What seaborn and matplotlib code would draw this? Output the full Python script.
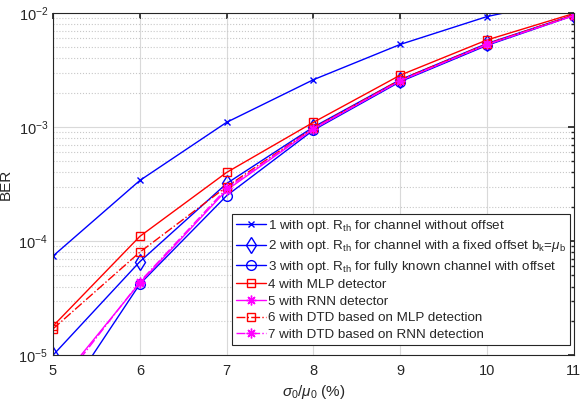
import numpy as np
import pandas as pd
import matplotlib
matplotlib.use("Agg")
import matplotlib.pyplot as plt
import seaborn as sns

# values
sigma_ratio = [5, 6, 7, 8, 9, 10, 11]
ber_1 = [7.4e-5, 3.4e-4, 1.1e-3, 2.6e-3, 5.3e-3, 9.3e-3, 1.35e-2]
ber_2 = [1.0e-5, 6.6e-5, 3.2e-4, 1.0e-3, 2.6e-3, 5.4e-3, 9.6e-3]
ber_3 = [3.0e-6, 4.2e-5, 2.5e-4, 9.4e-4, 2.5e-3, 5.2e-3, 9.5e-3]
ber_4 = [1.8e-5, 1.1e-4, 4.0e-4, 1.1e-3, 2.85e-3, 5.8e-3, 9.9e-3]
ber_5 = [5.0e-6, 4.3e-5, 2.8e-4, 9.6e-4, 2.55e-3, 5.3e-3, 9.5e-3]
ber_6 = [1.7e-5, 8.0e-5, 3.0e-4, 9.8e-4, 2.6e-3, 5.35e-3, 9.6e-3]
ber_7 = [4.6e-6, 4.4e-5, 2.9e-4, 9.7e-4, 2.55e-3, 5.3e-3, 9.5e-3]

labels = [
    r"1 with opt. R$_{\rm th}$ for channel without offset",
    r"2 with opt. R$_{\rm th}$ for channel with a fixed offset b$_{\rm k}$=$\mu_{\rm b}$",
    r"3 with opt. R$_{\rm th}$ for fully known channel with offset",
    "4 with MLP detector",
    "5 with RNN detector",
    "6 with DTD based on MLP detection",
    "7 with DTD based on RNN detection",
]

# MATLAB-like asterisk: 8 spokes
asterisk = (8, 2, 0)
styles = [
    dict(color="#0000ff", marker="x", linestyle="-", ms=5),
    dict(color="#0000ff", marker="d", linestyle="-", ms=8),
    dict(color="#0000ff", marker="o", linestyle="-", ms=7),
    dict(color="#ff0000", marker="s", linestyle="-", ms=6),
    dict(color="#ff00ff", marker=asterisk, linestyle="-", ms=7),
    dict(color="#ff0000", marker="s", linestyle="-.", ms=6),
    dict(color="#ff00ff", marker=asterisk, linestyle="-.", ms=7),
]

sns.set_theme(style="white")
plt.rcParams["font.family"] = ["Liberation Sans", "DejaVu Sans"]
plt.rcParams["mathtext.fontset"] = "custom"
plt.rcParams["mathtext.rm"] = "Liberation Sans"
plt.rcParams["mathtext.it"] = "Liberation Sans:italic"

fig = plt.figure(figsize=(5.8, 4.05), dpi=100)
ax = fig.add_axes([0.0914, 0.123, 0.898, 0.845])

series = [ber_1, ber_2, ber_3, ber_4, ber_5, ber_6, ber_7]
for vals, lab, st in zip(series, labels, styles):
    df = pd.DataFrame({"x": sigma_ratio, "ber": vals})
    face = "none" if st["marker"] in ("d", "o", "s") else st["color"]
    sns.lineplot(data=df, x="x", y="ber", ax=ax, color=st["color"],
                 linestyle=st["linestyle"], marker=st["marker"],
                 markersize=st["ms"], markerfacecolor=face,
                 markeredgecolor=st["color"], markeredgewidth=1.0,
                 linewidth=1.0, label=lab)

ax.set_yscale("log")
ax.set_xlim(5, 11)
ax.set_ylim(1e-5, 1e-2)
ax.set_xticks(sigma_ratio)
ax.grid(True, which="major", color="#d9d9d9", linestyle="-", linewidth=0.8)
ax.grid(True, which="minor", axis="y", color="#c8c8c8", linestyle=":", linewidth=0.8)
ax.set_axisbelow(True)

for sp in ax.spines.values():
    sp.set_color("#262626")
    sp.set_linewidth(0.8)
ax.tick_params(which="both", direction="in", top=True, right=True,
               colors="#262626", labelsize=10.5)
ax.tick_params(which="major", length=4)
ax.tick_params(which="minor", length=2)
ax.tick_params(axis="x", pad=6)

ax.set_xlabel(r"$\sigma_0/\mu_0$ (%)", fontsize=11, color="#262626")
ax.set_ylabel("BER", fontsize=11, color="#262626")

leg = ax.legend(loc="lower right", bbox_to_anchor=(0.993, 0.03),
                borderaxespad=0, fontsize=9.6, labelspacing=0.32,
                handlelength=2.3, handletextpad=0.15, borderpad=0.3,
                fancybox=False, framealpha=1, edgecolor="#262626")
leg.get_frame().set_linewidth(0.8)

fig.savefig("out.png", dpi=100)
